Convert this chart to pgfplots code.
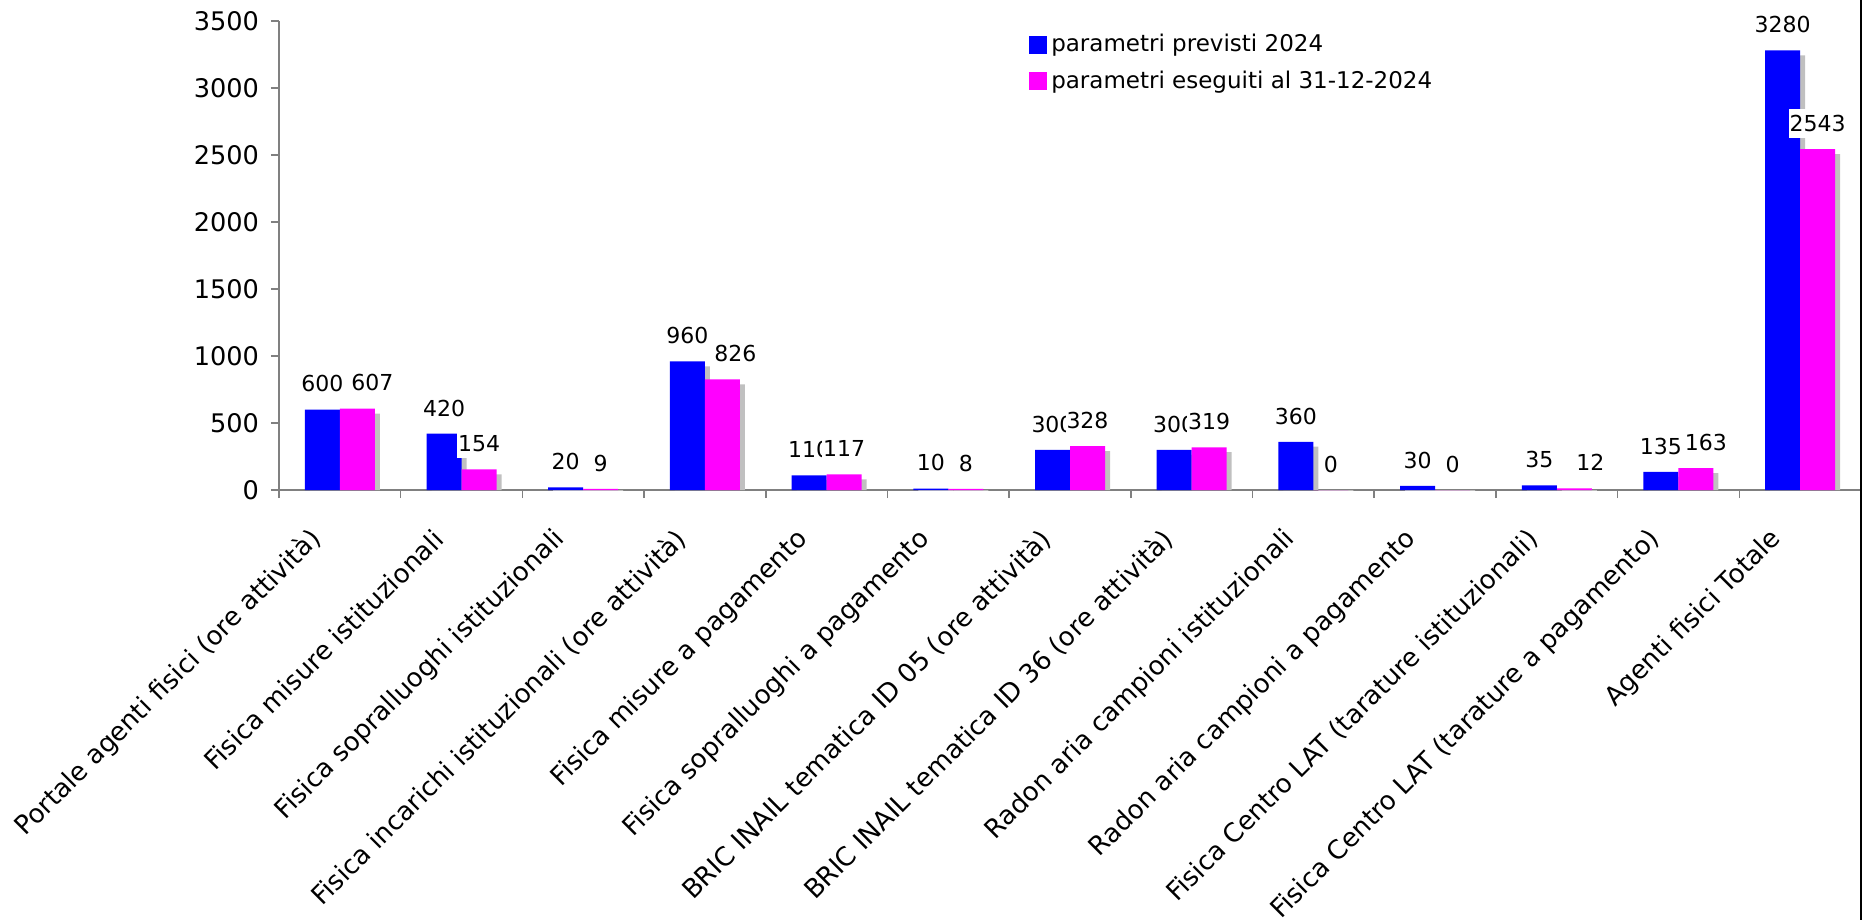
\documentclass[border=0pt]{standalone}
\usepackage{pgfplots}
\usepackage{pgfplotstable}
\pgfplotsset{compat=1.18}
\usepackage{fontspec}
\setmainfont{DejaVu Sans}
\definecolor{cblue}{RGB}{0,0,255}
\definecolor{cmag}{RGB}{255,0,255}
\definecolor{cshadow}{RGB}{192,192,192}
\definecolor{caxis}{RGB}{128,128,128}

\pgfplotstableread{
idx prev eseg ms
0 600 607 7.5
1 420 154 0
2 20 9 0
3 960 826 6.5
4 110 117 0
5 10 8 0
6 300 328 0
7 300 319 0
8 360 0 0
9 30 0 0
10 35 12 8
11 135 163 5
12 3280 2543 0
}\datatable

\begin{document}
\begin{tikzpicture}
\path[use as bounding box] (-139.5pt,-215pt) rectangle (795.5pt,245pt);
\begin{axis}[
  at={(0pt,0pt)}, anchor=south west,
  width=791pt, height=234.5pt, scale only axis,
  xmin=-0.5, xmax=12.5, ymin=0, ymax=3500,
  ybar, bar width=17.5pt,
  clip mode=individual,
  axis x line*=bottom, axis y line*=left,
  axis line style={draw=caxis, line width=0.75pt, -},
  every outer x axis line/.append style={-},
  every outer y axis line/.append style={-},
  tick align=outside,
  major tick length=4pt,
  tick style={draw=caxis, line width=0.75pt},
  xtick={-0.5,0.5,1.5,2.5,3.5,4.5,5.5,6.5,7.5,8.5,9.5,10.5,11.5,12.5},
  xticklabels={},
  extra x ticks={0,1,2,3,4,5,6,7,8,9,10,11,12},
  extra x tick labels={{Portale agenti fisici (ore attività)},{Fisica misure istituzionali},{Fisica sopralluoghi istituzionali},{Fisica incarichi istituzionali (ore attività)},{Fisica misure a pagamento},{Fisica sopralluoghi a pagamento},{BRIC INAIL tematica ID 05 (ore attività)},{BRIC INAIL tematica ID 36 (ore attività)},{Radon aria campioni istituzionali},{Radon aria campioni a pagamento},{Fisica Centro LAT (tarature istituzionali)},{Fisica Centro LAT (tarature a pagamento)},{Agenti fisici Totale}},
  extra x tick style={tick style={draw=none}, xticklabel style={font=\fontsize{13}{15}\selectfont, xshift=-9pt, yshift=-16pt, rotate=45, anchor=east}},
  ytick={0,500,...,3500},
  yticklabel style={font=\fontsize{12.8}{15}\selectfont, xshift=-2.5pt},
  /pgf/number format/1000 sep={},
  /pgf/number format/assume math mode=true,
  legend style={at={(rel axis cs:0.474,0.981)}, anchor=north west, draw=none, fill=none,
    font=\fontsize{11.5}{13}\selectfont, row sep=4pt, inner sep=0pt, cells={anchor=west}},
  every node near coord/.append style={font=\fontsize{11}{13}\selectfont, fill=white, inner xsep=0.5pt, inner ysep=3pt, anchor=south, yshift=5.5pt, text=black},
]
% shadows blue
\addplot[fill=cshadow, draw=none, bar shift=-6.25pt, forget plot] table[x=idx, y expr=\thisrow{prev}-37] {\datatable};
\addplot[fill=cblue, draw=none, bar shift=-8.75pt, nodes near coords,
  legend image code/.code={\fill[cblue] (0pt,-4.5pt) rectangle (9pt,4.5pt);}] table[x=idx, y=prev] {\datatable};
\addlegendentry{parametri previsti 2024}
\addplot[fill=cshadow, draw=none, bar shift=11.25pt, forget plot] table[x=idx, y expr=\thisrow{eseg}-37] {\datatable};
\addplot[fill=cmag, draw=none, bar shift=8.75pt, nodes near coords,
  visualization depends on={\thisrow{ms} \as \ms},
  every node near coord/.append style={xshift=\ms},
  legend image code/.code={\fill[cmag] (0pt,-4.5pt) rectangle (9pt,4.5pt);}] table[x=idx, y=eseg] {\datatable};
\addlegendentry{parametri eseguiti al 31-12-2024}
\end{axis}
\draw[black, line width=0.75pt] (791pt,245pt) -- (791pt,-215pt);
\end{tikzpicture}
\end{document}
